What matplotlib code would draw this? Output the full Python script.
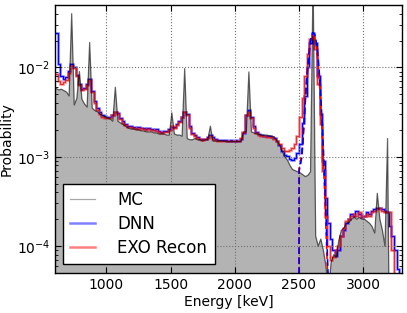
import numpy as np
import matplotlib
matplotlib.use('Agg')
import matplotlib.pyplot as plt

# 20 keV bins from 600 to 3300 keV
bin_edges = np.arange(600, 3301, 20)

mc = [
    5.8e-3, 5.6e-3, 5.7e-3, 5.5e-3, 5.3e-3, 4.8e-3, 4.0e-2, 3.8e-3, 4.5e-3, 9.0e-3,
    4.4e-3, 3.9e-3, 3.6e-3, 1.9e-2, 3.5e-3, 3.3e-3, 3.2e-3, 3.0e-3, 2.9e-3, 2.8e-3,
    2.7e-3, 2.65e-3, 2.5e-3, 6.0e-3, 2.5e-3, 2.4e-3, 2.3e-3, 2.2e-3, 2.1e-3, 2.05e-3,
    2.05e-3, 2.0e-3, 2.0e-3, 1.95e-3, 1.95e-3, 1.9e-3, 1.9e-3, 1.9e-3, 1.85e-3, 1.85e-3,
    1.8e-3, 1.8e-3, 1.8e-3, 1.75e-3, 1.75e-3, 3.1e-3, 1.8e-3, 1.75e-3, 1.75e-3, 1.7e-3,
    9.7e-3, 1.6e-3, 1.55e-3, 1.55e-3, 1.6e-3, 1.55e-3, 1.55e-3, 1.5e-3, 1.55e-3, 1.55e-3,
    2.2e-3, 1.5e-3, 1.5e-3, 1.5e-3, 1.5e-3, 1.5e-3, 1.48e-3, 1.48e-3, 1.48e-3, 1.48e-3,
    1.48e-3, 1.48e-3, 1.5e-3, 1.9e-3, 1.9e-3, 8.9e-3, 1.9e-3, 1.85e-3, 1.8e-3, 1.78e-3,
    1.75e-3, 1.75e-3, 1.75e-3, 1.72e-3, 1.7e-3, 1.65e-3, 1.5e-3, 1.35e-3, 1.15e-3, 1.0e-3,
    9.2e-4, 8.0e-4, 7.2e-4, 7.0e-4, 6.8e-4, 6.6e-4, 6.3e-4, 6.0e-4, 6.2e-4, 6.8e-4,
    1.0e-1, 1.3e-4, 1.0e-4, 1.2e-4, 9.0e-5, 6.0e-5, 3.0e-5, 6.5e-5, 8.0e-5, 7.5e-5,
    1.15e-4, 1.5e-4, 1.6e-4, 1.8e-4, 1.85e-4, 2.0e-4, 2.1e-4, 2.0e-4, 2.1e-4, 2.0e-4,
    2.0e-4, 1.9e-4, 1.8e-4, 1.65e-4, 1.4e-4, 3.9e-4, 2.0e-4, 1.5e-4, 1.0e-4, 1.6e-3,
    1e-6, 1e-6, 1e-6, 1e-6, 1e-6,
]

dnn = [
    2.4e-2, 1.1e-2, 8.0e-3, 7.5e-3, 7.8e-3, 9.2e-3, 1.1e-2, 1.0e-2, 8.3e-3, 6.6e-3,
    5.8e-3, 5.9e-3, 6.6e-3, 7.5e-3, 5.5e-3, 4.2e-3, 3.5e-3, 3.2e-3, 2.95e-3, 2.85e-3,
    2.8e-3, 2.8e-3, 2.95e-3, 3.2e-3, 3.1e-3, 2.75e-3, 2.5e-3, 2.3e-3, 2.2e-3, 2.2e-3,
    2.15e-3, 2.1e-3, 2.15e-3, 2.1e-3, 2.1e-3, 2.05e-3, 2.1e-3, 2.05e-3, 2.0e-3, 2.05e-3,
    1.95e-3, 1.9e-3, 1.95e-3, 1.95e-3, 2.05e-3, 2.15e-3, 2.15e-3, 2.3e-3, 2.5e-3, 2.8e-3,
    3.2e-3, 3.0e-3, 2.2e-3, 1.85e-3, 1.75e-3, 1.65e-3, 1.6e-3, 1.6e-3, 1.6e-3, 1.65e-3,
    1.75e-3, 1.65e-3, 1.6e-3, 1.55e-3, 1.55e-3, 1.55e-3, 1.55e-3, 1.52e-3, 1.55e-3, 1.52e-3,
    1.55e-3, 1.52e-3, 1.6e-3, 1.85e-3, 2.9e-3, 3.3e-3, 2.8e-3, 2.2e-3, 1.9e-3, 1.8e-3,
    1.75e-3, 1.7e-3, 1.72e-3, 1.7e-3, 1.68e-3, 1.62e-3, 1.5e-3, 1.35e-3, 1.15e-3, 1.05e-3,
    1.02e-3, 9.5e-4, 9.2e-4, 9.8e-4, 1.1e-3, 1.4e-3, 2.4e-3, 4.8e-3, 1.0e-2, 1.9e-2,
    2.45e-2, 1.9e-2, 8.0e-3, 3.0e-3, 9.0e-4, 3.5e-4, 1.8e-4, 1.2e-4, 9.0e-5, 7.7e-5,
    9.0e-5, 1.3e-4, 1.5e-4, 1.8e-4, 2.0e-4, 2.3e-4, 2.2e-4, 2.5e-4, 2.3e-4, 2.1e-4,
    2.2e-4, 2.4e-4, 2.3e-4, 2.5e-4, 2.6e-4, 2.7e-4, 2.7e-4, 2.6e-4, 2.5e-4, 2.4e-4,
    1.7e-4, 1.3e-4, 9.0e-5, 5.5e-5, 1e-6,
]

exo = [
    8.5e-3, 7.0e-3, 6.5e-3, 6.8e-3, 7.3e-3, 8.6e-3, 1.05e-2, 9.8e-3, 8.0e-3, 6.4e-3,
    5.6e-3, 5.7e-3, 6.4e-3, 7.2e-3, 5.3e-3, 4.0e-3, 3.3e-3, 3.0e-3, 2.8e-3, 2.75e-3,
    2.7e-3, 2.75e-3, 2.9e-3, 3.15e-3, 3.0e-3, 2.65e-3, 2.4e-3, 2.25e-3, 2.15e-3, 2.15e-3,
    2.1e-3, 2.1e-3, 2.05e-3, 2.1e-3, 2.05e-3, 2.0e-3, 2.05e-3, 2.0e-3, 2.0e-3, 1.95e-3,
    1.9e-3, 1.85e-3, 1.9e-3, 1.9e-3, 2.0e-3, 2.2e-3, 2.1e-3, 2.25e-3, 2.45e-3, 2.8e-3,
    3.2e-3, 2.9e-3, 2.1e-3, 1.8e-3, 1.7e-3, 1.62e-3, 1.58e-3, 1.55e-3, 1.6e-3, 1.62e-3,
    1.72e-3, 1.6e-3, 1.55e-3, 1.52e-3, 1.5e-3, 1.52e-3, 1.5e-3, 1.5e-3, 1.52e-3, 1.5e-3,
    1.5e-3, 1.5e-3, 1.62e-3, 1.9e-3, 2.9e-3, 3.2e-3, 2.7e-3, 2.1e-3, 1.85e-3, 1.75e-3,
    1.72e-3, 1.7e-3, 1.65e-3, 1.68e-3, 1.65e-3, 1.6e-3, 1.5e-3, 1.4e-3, 1.25e-3, 1.15e-3,
    1.15e-3, 1.2e-3, 1.25e-3, 1.4e-3, 1.7e-3, 2.8e-3, 4.5e-3, 8.0e-3, 1.4e-2, 2.1e-2,
    2.3e-2, 1.6e-2, 6.5e-3, 2.3e-3, 7.0e-4, 2.2e-4, 1.0e-4, 7.0e-5, 7.5e-5, 9.0e-5,
    1.0e-4, 1.3e-4, 1.6e-4, 1.9e-4, 2.0e-4, 2.2e-4, 2.3e-4, 2.2e-4, 2.4e-4, 2.1e-4,
    2.2e-4, 2.3e-4, 2.2e-4, 2.4e-4, 2.5e-4, 2.6e-4, 2.7e-4, 2.5e-4, 2.4e-4, 2.4e-4,
    2.4e-4, 9.0e-5, 1e-6, 1e-6, 1e-6,
]

# peak fits around the 2614 keV line
fit_energy = [2500, 2501, 2510, 2520, 2530, 2540, 2550, 2560, 2570, 2580, 2590, 2600,
              2610, 2620, 2630, 2640, 2650, 2660, 2670, 2680, 2690, 2700, 2710, 2720,
              2730, 2740]
fit_dnn = [1e-6, 7e-4, 8e-4, 9.5e-4, 1.4e-3, 2.4e-3, 4.3e-3, 7.0e-3, 1.07e-2, 1.5e-2,
           1.95e-2, 2.3e-2, 2.45e-2, 2.38e-2, 2.1e-2, 1.7e-2, 1.25e-2, 8.0e-3, 4.6e-3,
           2.5e-3, 1.2e-3, 5.5e-4, 2.3e-4, 9e-5, 3.3e-5, 1.1e-5]
fit_exo = [1e-6, 7.5e-4, 8.5e-4, 1.05e-3, 1.6e-3, 2.7e-3, 4.8e-3, 7.8e-3, 1.15e-2, 1.6e-2,
           2.0e-2, 2.3e-2, 2.35e-2, 2.2e-2, 1.9e-2, 1.5e-2, 1.05e-2, 6.5e-3, 3.6e-3,
           1.9e-3, 9.0e-4, 4.0e-4, 1.6e-4, 6.5e-5, 2.5e-5, 1e-5]

centers = 0.5 * (bin_edges[1:] + bin_edges[:-1])
# extend the MC curve to the plot edges
mc_x = np.concatenate([[bin_edges[0]], centers, [bin_edges[-1]]])
mc_y = np.concatenate([[mc[0]], mc, [mc[-1]]])

fig = plt.figure(figsize=(4.07, 3.13), dpi=100)
ax = fig.add_axes([55 / 407, 40 / 313, 346.7 / 407, 268 / 313])

ax.fill_between(mc_x, 1e-9, mc_y, color='#b3b3b3', lw=0)
l_mc, = ax.plot(mc_x, mc_y, color='k', alpha=0.6, lw=0.9, label='MC')

l_dnn = ax.stairs(dnn, bin_edges, baseline=None, color='b', alpha=0.5, lw=1.8, label='DNN')
ax.stairs(dnn, bin_edges, baseline=None, color='b', lw=0.8)
l_exo = ax.stairs(exo, bin_edges, baseline=None, color='r', alpha=0.5, lw=1.8, label='EXO Recon')
ax.stairs(exo, bin_edges, baseline=None, color='#cc2222', lw=0.7, alpha=0.8)

ax.plot(fit_energy, fit_exo, color='r', lw=1.2, ls='--', dashes=(4, 2))
ax.plot(fit_energy, fit_dnn, color='b', lw=1.2, ls='--', dashes=(4, 2))

ax.set_yscale('log')
ax.set_xlim(600, 3300)
ax.set_ylim(5e-5, 5e-2)
ax.set_xticks([1000, 1500, 2000, 2500, 3000])

ax.tick_params(which='both', direction='in', top=True, right=True, labelsize=10)
ax.tick_params(which='major', length=4)
ax.tick_params(which='minor', length=2)
ax.grid(True, which='major', ls=':', color='0.45', lw=0.8)
for s in ax.spines.values():
    s.set_linewidth(1.0)

ax.set_xlabel('Energy [keV]', fontsize=10, labelpad=2)
ax.set_ylabel('Probability', fontsize=10, labelpad=2)

leg = ax.legend(handles=[l_mc, l_dnn, l_exo], loc='lower left',
                bbox_to_anchor=(0.023, 0.032), borderaxespad=0, fontsize=12,
                fancybox=False, edgecolor='k', framealpha=1, handlelength=1.5,
                handletextpad=1.3, labelspacing=0.35, borderpad=0.45)
leg.get_frame().set_linewidth(1.0)
leg.legend_handles[0].set_alpha(0.35)

plt.savefig('out.png', dpi=100)
